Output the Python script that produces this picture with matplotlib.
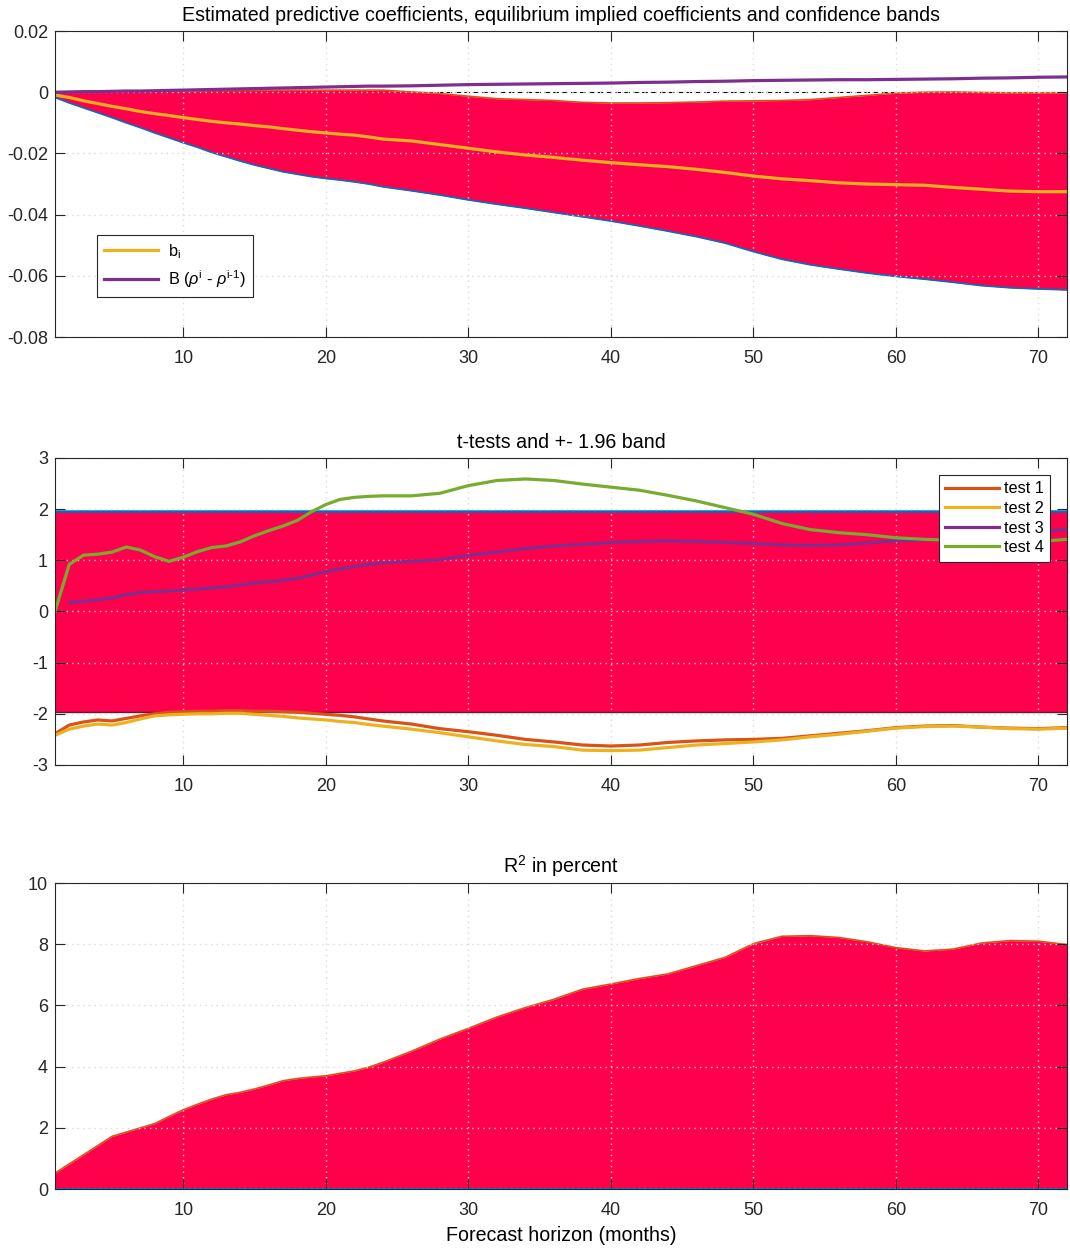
import numpy as np
import matplotlib.pyplot as plt
from matplotlib.ticker import FuncFormatter

plt.rcParams['font.family'] = ['Liberation Sans', 'DejaVu Sans']
plt.rcParams['axes.unicode_minus'] = False
plt.rcParams['mathtext.fontset'] = 'custom'
plt.rcParams['mathtext.rm'] = 'Liberation Sans'
plt.rcParams['mathtext.it'] = 'Liberation Sans:italic'

# forecast horizons (months) at which values were read
months = [1, 2, 3, 4, 5, 6, 7, 8, 9, 10, 11, 12, 13, 14, 15, 16, 17, 18, 19, 20, 21, 22, 23, 24,
          26, 28, 30, 32, 34, 36, 38, 40, 42, 44, 46, 48, 50, 52, 54, 56, 58, 60, 62, 64, 66, 68, 70, 72]

# panel 1: coefficients and confidence band
b_i = [-0.0009, -0.0017, -0.0028, -0.0037, -0.0046, -0.0054, -0.0063, -0.0070, -0.0076, -0.0083,
       -0.0089, -0.0095, -0.0100, -0.0104, -0.0109, -0.0113, -0.0119, -0.0124, -0.0129, -0.0133,
       -0.0137, -0.0140, -0.0146, -0.0153, -0.0159, -0.0171, -0.0183, -0.0195, -0.0205, -0.0213,
       -0.0222, -0.0230, -0.0237, -0.0243, -0.0252, -0.0262, -0.0274, -0.0283, -0.0289, -0.0296,
       -0.0300, -0.0302, -0.0304, -0.0311, -0.0317, -0.0323, -0.0325, -0.0325]
band_low = [-0.0017, -0.0035, -0.0051, -0.0067, -0.0083, -0.0100, -0.0116, -0.0133, -0.0149, -0.0165,
            -0.0180, -0.0197, -0.0211, -0.0225, -0.0238, -0.0249, -0.0260, -0.0268, -0.0276, -0.0282,
            -0.0287, -0.0293, -0.0300, -0.0309, -0.0322, -0.0336, -0.0352, -0.0366, -0.0379, -0.0393,
            -0.0407, -0.0421, -0.0437, -0.0454, -0.0472, -0.0493, -0.0521, -0.0546, -0.0564, -0.0578,
            -0.0591, -0.0602, -0.0611, -0.0621, -0.0632, -0.0639, -0.0643, -0.0646]
band_high = [0.0, 0.0001, 0.0002, 0.0002, 0.0003, 0.0003, 0.0004, 0.0004, 0.0005, 0.0005,
             0.0005, 0.0006, 0.0006, 0.0006, 0.0006, 0.0007, 0.0007, 0.0007, 0.0007, 0.0007,
             0.0007, 0.0007, 0.0007, 0.0007, 0.0001, -0.0004, -0.0013, -0.0021, -0.0024, -0.0027,
             -0.0033, -0.0035, -0.0035, -0.0034, -0.0032, -0.0029, -0.0028, -0.0027, -0.0024, -0.0017,
             -0.0010, -0.0003, 0.0, 0.0001, -0.0001, -0.0002, -0.0002, -0.0002]
implied = [0.0, 0.0001, 0.0002, 0.0002, 0.0003, 0.0004, 0.0004, 0.0005, 0.0006, 0.0007,
           0.0008, 0.0009, 0.0010, 0.0011, 0.0012, 0.0013, 0.0014, 0.0015, 0.0016, 0.0017,
           0.0018, 0.0019, 0.0020, 0.0020, 0.0021, 0.0023, 0.0025, 0.0026, 0.0027, 0.0028,
           0.0029, 0.0030, 0.0032, 0.0033, 0.0035, 0.0036, 0.0038, 0.0039, 0.0040, 0.0041,
           0.0041, 0.0042, 0.0043, 0.0044, 0.0046, 0.0047, 0.0049, 0.0050]

# panel 2: t-tests
test1 = [-2.39, -2.22, -2.16, -2.12, -2.14, -2.09, -2.04, -2.00, -1.97, -1.96, -1.95, -1.95, -1.94, -1.94,
         -1.95, -1.95, -1.96, -1.97, -1.99, -2.01, -2.03, -2.06, -2.10, -2.14, -2.20, -2.29, -2.35, -2.42,
         -2.50, -2.55, -2.61, -2.63, -2.61, -2.56, -2.53, -2.51, -2.50, -2.48, -2.43, -2.38, -2.33, -2.27,
         -2.24, -2.23, -2.26, -2.28, -2.29, -2.27]
test2 = [-2.42, -2.30, -2.24, -2.20, -2.22, -2.17, -2.10, -2.04, -2.02, -2.01, -2.00, -2.00, -1.99, -1.99,
         -2.01, -2.03, -2.05, -2.08, -2.10, -2.12, -2.15, -2.17, -2.21, -2.24, -2.30, -2.37, -2.45, -2.53,
         -2.60, -2.64, -2.71, -2.72, -2.71, -2.66, -2.61, -2.58, -2.55, -2.51, -2.45, -2.40, -2.34, -2.28,
         -2.25, -2.24, -2.26, -2.29, -2.30, -2.28]
test3 = [np.nan, 0.17, 0.20, 0.23, 0.26, 0.33, 0.37, 0.39, 0.40, 0.42, 0.44, 0.46, 0.48, 0.52,
         0.56, 0.58, 0.61, 0.65, 0.71, 0.78, 0.83, 0.88, 0.92, 0.95, 0.98, 1.01, 1.10, 1.16,
         1.23, 1.28, 1.31, 1.35, 1.37, 1.38, 1.37, 1.35, 1.33, 1.30, 1.29, 1.30, 1.34, 1.38,
         1.40, 1.42, 1.46, 1.51, 1.55, 1.61]
test4 = [0.0, 0.92, 1.10, 1.12, 1.16, 1.26, 1.20, 1.07, 0.98, 1.06, 1.17, 1.25, 1.28, 1.36,
         1.48, 1.58, 1.67, 1.78, 1.95, 2.09, 2.19, 2.23, 2.25, 2.26, 2.26, 2.31, 2.46, 2.56,
         2.59, 2.56, 2.49, 2.43, 2.37, 2.27, 2.16, 2.03, 1.90, 1.72, 1.60, 1.54, 1.50, 1.44,
         1.41, 1.39, 1.38, 1.37, 1.37, 1.41]
crit = 1.96

# panel 3: R^2 in percent
r2 = [0.52, 0.82, 1.12, 1.42, 1.72, 1.86, 2.00, 2.14, 2.37, 2.59, 2.77, 2.94, 3.08, 3.16,
      3.27, 3.40, 3.54, 3.61, 3.66, 3.70, 3.78, 3.86, 3.98, 4.14, 4.50, 4.90, 5.25, 5.62,
      5.93, 6.20, 6.53, 6.70, 6.88, 7.03, 7.30, 7.57, 8.02, 8.26, 8.28, 8.22, 8.08, 7.89,
      7.78, 7.84, 8.04, 8.12, 8.10, 7.99]

RED = '#FF004D'
BLUE = '#0072BD'
ORANGE = '#D95319'
YELLOW = '#EDB120'
PURPLE = '#7E2F8E'
GREEN = '#77AC30'
DARK = '#262626'

fig = plt.figure(figsize=(10.7, 12.52), dpi=100)
ax1 = fig.add_axes([0.0514, 0.7308, 0.9458, 0.2444])
ax2 = fig.add_axes([0.0514, 0.3890, 0.9458, 0.2452])
ax3 = fig.add_axes([0.0514, 0.0503, 0.9458, 0.2444])


def style(ax, ylim, yticks):
    ax.set_xlim(1, 72)
    ax.set_ylim(*ylim)
    ax.set_xticks([10, 20, 30, 40, 50, 60, 70])
    ax.set_yticks(yticks)
    ax.yaxis.set_major_formatter(FuncFormatter(lambda v, p: '%g' % round(v, 4)))
    ax.tick_params(direction='in', length=7, width=0.8, top=True, right=True,
                   colors=DARK, labelsize=13)
    ax.tick_params(axis='x', pad=9.5)
    ax.tick_params(axis='y', pad=5)
    ax.grid(True, color='#dadada', linestyle=(0, (1, 3)), linewidth=1.0)
    ax.set_axisbelow(False)
    for s in ax.spines.values():
        s.set_color(DARK)
        s.set_linewidth(0.8)
        s.set_zorder(4)


# panel 1
ax1.axhline(0, color='black', linestyle=(0, (5, 3)), linewidth=0.8, zorder=0.5)
ax1.fill_between(months, band_low, band_high, color=RED, linewidth=0, zorder=1)
ax1.plot(months, band_low, color=BLUE, linewidth=1.2, zorder=1.5)
ax1.plot(months, band_high, color=ORANGE, linewidth=1.2, zorder=1.5)
ax1.plot(months, b_i, color=YELLOW, linewidth=2.3, zorder=3, label='b$_{\\rm i}$')
ax1.plot(months, implied, color=PURPLE, linewidth=2.3, zorder=3,
         label='B ($\\rho^{\\rm i}$ - $\\rho^{\\rm i\\text{-}1}$)')
style(ax1, (-0.08, 0.02), [-0.08, -0.06, -0.04, -0.02, 0, 0.02])
ax1.set_title('Estimated predictive coefficients, equilibrium implied coefficients and confidence bands',
              fontsize=14.1, pad=7.5)
leg1 = ax1.legend(loc='lower left', bbox_to_anchor=(0.0415, 0.1307), borderaxespad=0,
                  fontsize=11.7, handlelength=3.3, handletextpad=0.6, labelspacing=0.45,
                  fancybox=False, framealpha=1, edgecolor=DARK, borderpad=0.45)
leg1.get_frame().set_linewidth(0.8)

# panel 2
ax2.fill_between([1, 72], [-crit, -crit], [crit, crit], color=RED, linewidth=0, zorder=1)
ax2.plot([1, 72], [crit, crit], color=BLUE, linewidth=1.8, zorder=1.5)
ax2.plot([1, 72], [-crit, -crit], color='#5b1f33', linewidth=1.0, zorder=1.5)
ax2.plot(months, test1, color=ORANGE, linewidth=2.3, zorder=3, label='test 1')
ax2.plot(months, test2, color=YELLOW, linewidth=2.3, zorder=3, label='test 2')
ax2.plot(months, test3, color=PURPLE, linewidth=2.3, zorder=3, label='test 3')
ax2.plot(months, test4, color=GREEN, linewidth=2.3, zorder=3, label='test 4')
style(ax2, (-3, 3), [-3, -2, -1, 0, 1, 2, 3])
ax2.set_title('t-tests and +- 1.96 band', fontsize=14.1, pad=7.5)
leg2 = ax2.legend(loc='upper right', bbox_to_anchor=(0.9832, 0.9446), borderaxespad=0,
                  fontsize=11.7, handlelength=3.3, handletextpad=0.3, labelspacing=0.28,
                  fancybox=False, framealpha=1, edgecolor=DARK, borderpad=0.4)
leg2.get_frame().set_linewidth(0.8)
leg2.set_zorder(5)

# panel 3
ax3.fill_between(months, 0, r2, color=RED, linewidth=0, zorder=1)
ax3.plot(months, r2, color=ORANGE, linewidth=1.2, zorder=1.5)
ax3.plot([1, 72], [0, 0], color=BLUE, linewidth=1.5, zorder=1.5)
style(ax3, (0, 10), [0, 2, 4, 6, 8, 10])
ax3.set_title('R$^2$ in percent', fontsize=14.1, pad=7.5)
ax3.set_xlabel('Forecast horizon (months)', fontsize=14.1, labelpad=5)

fig.savefig('out.png', dpi=100)
